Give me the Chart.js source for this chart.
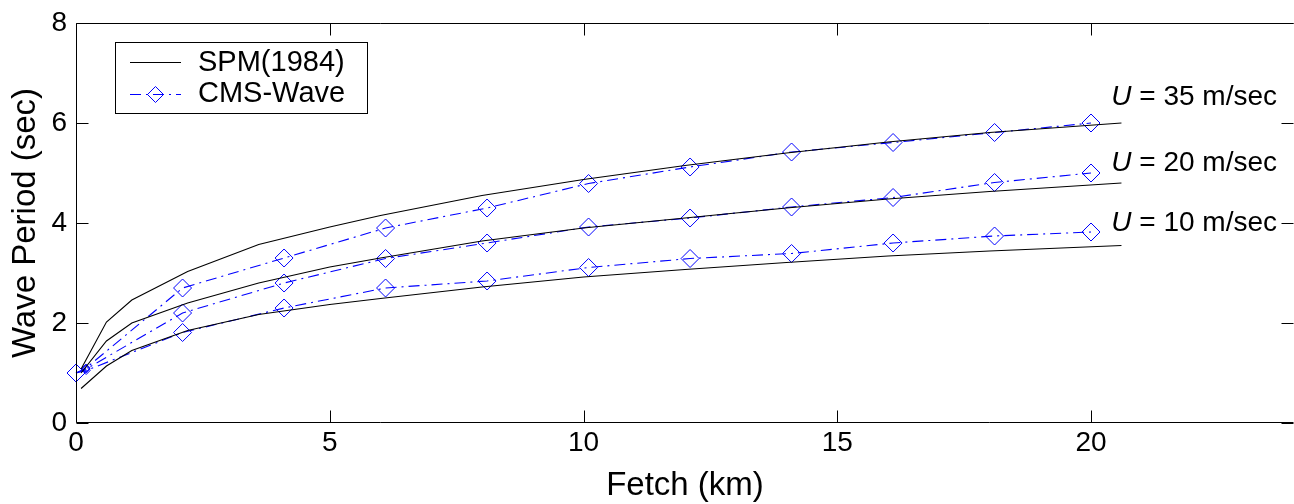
<!DOCTYPE html>
<html><head><meta charset="utf-8">
<script src="https://cdn.jsdelivr.net/npm/chart.js@4"></script>
<style>
html,body{margin:0;padding:0;background:#fff;overflow:hidden}
#wrap{position:relative;width:1294px;height:504px}
</style></head><body>
<div id="wrap"><canvas id="c" width="1294" height="504"></canvas></div>
<script>
// ---- data ----
const spmFetch = [0.1, 0.6, 1.1, 2.2, 3.6, 5, 6, 8, 10, 12, 14, 16, 18, 20.6];
const spm35 = [1.08, 2.02, 2.46, 3.03, 3.57, 3.92, 4.15, 4.55, 4.87, 5.15, 5.40, 5.62, 5.81, 6.00];
const spm20 = [1.00, 1.64, 2.00, 2.40, 2.80, 3.12, 3.30, 3.64, 3.90, 4.10, 4.30, 4.48, 4.63, 4.80];
const spm10 = [0.69, 1.14, 1.45, 1.85, 2.17, 2.37, 2.49, 2.72, 2.92, 3.07, 3.21, 3.34, 3.44, 3.55];
const cmsFetch = [0, 0.2, 2.1, 4.1, 6.1, 8.1, 10.1, 12.1, 14.1, 16.1, 18.1, 20.0];
const cms35 = [1.0, 1.10, 2.70, 3.30, 3.90, 4.30, 4.79, 5.12, 5.42, 5.61, 5.81, 6.00];
const cms20 = [1.0, 1.08, 2.20, 2.80, 3.29, 3.60, 3.92, 4.10, 4.32, 4.51, 4.81, 5.00];
const cms10 = [1.0, 1.05, 1.81, 2.30, 2.70, 2.84, 3.11, 3.29, 3.39, 3.60, 3.74, 3.82];
const xTicks = [0, 5, 10, 15, 20];
const yTicks = [0, 2, 4, 6, 8];
const legendLabels = ['SPM(1984)', 'CMS-Wave'];
const windSpeeds = ['35', '20', '10'];
const windLabelY = [6.37, 5.05, 3.85];
const windLabelX = 20.4;

const FONT = '"Liberation Sans", Arial, sans-serif';
const BLUE = '#0000ff';
const DASHDOT = [11, 5, 2, 5];

const pts = (xs, ys) => xs.map((v, i) => ({x: v, y: ys[i]}));
const spmSet = ys => ({
  data: pts(spmFetch, ys), borderColor: '#000', borderWidth: 1.1,
  pointRadius: 0, tension: 0, fill: false
});
const cmsSet = ys => ({
  data: pts(cmsFetch, ys), borderColor: BLUE, borderWidth: 1.1, borderDash: DASHDOT,
  pointStyle: 'rectRot', pointRadius: c => (c.dataIndex === 1 ? 4 : 9),
  pointBorderColor: BLUE, pointBackgroundColor: 'rgba(0,0,0,0)', pointBorderWidth: 1,
  tension: 0, fill: false, clip: false
});

const framePlugin = {
  id: 'frame',
  afterDraw(chart) {
    const {ctx, chartArea: a, scales: {x, y}} = chart;
    ctx.save();
    ctx.strokeStyle = '#000';
    ctx.lineWidth = 1;
    const L = Math.round(a.left) + 0.5, R = Math.round(a.right) - 0.5;
    const T = Math.round(a.top) + 0.5, B = Math.round(a.bottom) - 0.5;
    ctx.beginPath();
    ctx.moveTo(R, T); ctx.lineTo(L, T); ctx.lineTo(L, B); ctx.lineTo(R, B);
    const tl = 12;
    xTicks.forEach(v => {
      const px = Math.round(x.getPixelForValue(v)) + 0.5;
      ctx.moveTo(px, B); ctx.lineTo(px, B - tl);
      ctx.moveTo(px, T); ctx.lineTo(px, T + tl);
    });
    yTicks.forEach(v => {
      const py = Math.round(y.getPixelForValue(v)) + 0.5;
      ctx.moveTo(L, py); ctx.lineTo(L + tl, py);
      ctx.moveTo(R, py); ctx.lineTo(R - tl, py);
    });
    ctx.stroke();

    // wind speed labels
    ctx.fillStyle = '#000';
    ctx.textBaseline = 'alphabetic';
    windSpeeds.forEach((s, i) => {
      const px = x.getPixelForValue(windLabelX);
      const py = y.getPixelForValue(windLabelY[i]);
      ctx.font = 'italic 28px ' + FONT;
      ctx.fillText('U', px, py);
      const w = ctx.measureText('U').width;
      ctx.font = '28px ' + FONT;
      ctx.fillText(' = ' + s + ' m/sec', px + w, py);
    });

    // legend
    const lx = 115, ly = 42, lw = 252, lh = 71;
    ctx.fillStyle = '#fff';
    ctx.fillRect(lx, ly, lw, lh);
    ctx.strokeStyle = '#000';
    ctx.strokeRect(lx + 0.5, ly + 0.5, lw, lh);
    ctx.beginPath();
    ctx.moveTo(130, 62.5); ctx.lineTo(181, 62.5);
    ctx.stroke();
    ctx.strokeStyle = BLUE;
    ctx.setLineDash(DASHDOT);
    ctx.beginPath();
    ctx.moveTo(130, 94.5); ctx.lineTo(181, 94.5);
    ctx.stroke();
    ctx.setLineDash([]);
    ctx.beginPath();
    const cx = 155.5, cy = 94.5, r = 8;
    ctx.moveTo(cx - r, cy); ctx.lineTo(cx, cy - r); ctx.lineTo(cx + r, cy); ctx.lineTo(cx, cy + r); ctx.closePath();
    ctx.stroke();
    ctx.fillStyle = '#000';
    ctx.font = '29px ' + FONT;
    ctx.fillText(legendLabels[0], 198, 71);
    ctx.fillText(legendLabels[1], 198, 102);
    ctx.restore();
  }
};

new Chart(document.getElementById('c'), {
  type: 'line',
  data: {
    datasets: [spmSet(spm35), spmSet(spm20), spmSet(spm10), cmsSet(cms35), cmsSet(cms20), cmsSet(cms10)]
  },
  options: {
    responsive: false, animation: false, devicePixelRatio: 1,
    layout: {autoPadding: false, padding: {top: 16, right: -1, left: 0, bottom: 0}},
    plugins: {legend: {display: false}, tooltip: {enabled: false}},
    scales: {
      x: {
        type: 'linear', min: 0, max: 24, position: 'bottom',
        afterBuildTicks: s => { s.ticks = xTicks.map(v => ({value: v})); },
        afterFit: s => { s.height = 81; s.paddingRight = 0; },
        grid: {display: false, drawTicks: false}, border: {display: false},
        ticks: {color: '#000', padding: 6, maxRotation: 0, font: {family: FONT, size: 28, lineHeight: 1}},
        title: {display: true, text: 'Fetch (km)', color: '#000', font: {family: FONT, size: 33, lineHeight: 1.1}, padding: {top: 0, bottom: 0}}
      },
      y: {
        type: 'linear', min: 0, max: 8,
        afterBuildTicks: s => { s.ticks = yTicks.map(v => ({value: v})); },
        afterFit: s => { s.width = 76; },
        grid: {display: false, drawTicks: false}, border: {display: false},
        ticks: {color: '#000', padding: 9, font: {family: FONT, size: 28, lineHeight: 1}},
        title: {display: true, text: 'Wave Period (sec)', color: '#000', font: {family: FONT, size: 33, lineHeight: 1.1}, padding: {top: 8, bottom: 0}}
      }
    }
  },
  plugins: [framePlugin]
});
</script>
</body></html>
